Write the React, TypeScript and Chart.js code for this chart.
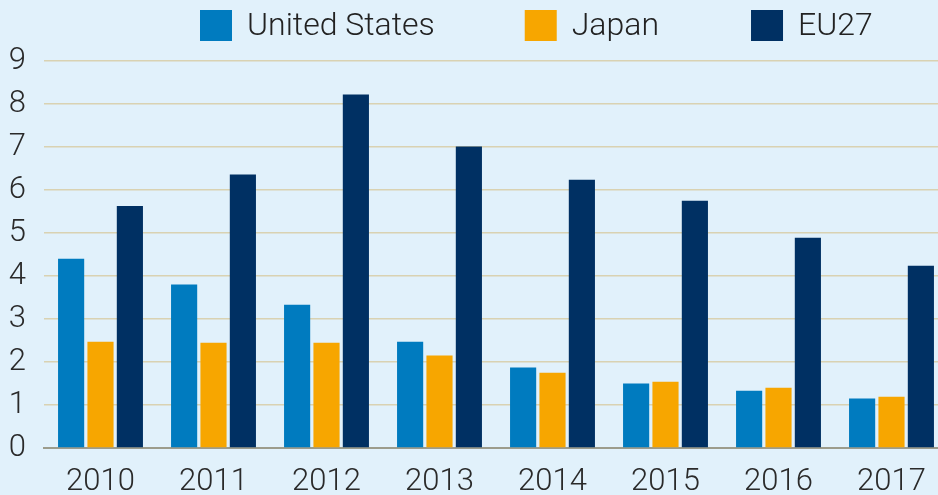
import React, { useEffect, useRef } from "react";
import { Chart, registerables } from "chart.js";

Chart.register(...registerables);

const categories = ["2010", "2011", "2012", "2013", "2014", "2015", "2016", "2017"];
const unitedStates = [4.4, 3.8, 3.33, 2.47, 1.87, 1.5, 1.33, 1.15];
const japan = [2.47, 2.45, 2.45, 2.15, 1.75, 1.54, 1.4, 1.19];
const eu27 = [5.63, 6.36, 8.22, 7.01, 6.24, 5.75, 4.89, 4.24];
const seriesNames = ["United States", "Japan", "EU27"];
const seriesColors = ["#007bbf", "#f7a600", "#003063"];

const BG = "#e1f1fb";
const FONT = "Roboto";

const legendPlugin = {
  id: "customLegend",
  afterDraw(chart: any) {
    const ctx = chart.ctx as CanvasRenderingContext2D;
    const startX = 200;
    const boxW = 32;
    const boxH = 31;
    const boxTop = 10;
    const textGap = 15;
    const itemGaps = [90, 92];
    ctx.save();
    ctx.font = `300 32px ${FONT}`;
    ctx.textBaseline = "middle";
    ctx.textAlign = "left";
    let x = startX;
    chart.data.datasets.forEach((ds: any, i: number) => {
      ctx.fillStyle = ds.backgroundColor;
      ctx.fillRect(x, boxTop, boxW, boxH);
      x += boxW + textGap;
      ctx.fillStyle = "#222";
      ctx.fillText(ds.label, x, boxTop + boxH / 2 + 1);
      x += ctx.measureText(ds.label).width + (itemGaps[i] ?? 0);
    });
    ctx.restore();
  },
};

export default function App() {
  const ref = useRef<HTMLCanvasElement | null>(null);

  useEffect(() => {
    document.body.style.margin = "0";
    document.body.style.background = BG;
    const canvas = ref.current!;
    const chart = new Chart(canvas, {
      type: "bar",
      data: {
        labels: categories,
        datasets: [
          { label: seriesNames[0], data: unitedStates, backgroundColor: seriesColors[0] },
          { label: seriesNames[1], data: japan, backgroundColor: seriesColors[1] },
          { label: seriesNames[2], data: eu27, backgroundColor: seriesColors[2] },
        ],
      },
      options: {
        responsive: false,
        animation: false,
        devicePixelRatio: 1,
        layout: { padding: { left: 0, right: 0, top: 61, bottom: 0 } },
        datasets: {
          bar: { categoryPercentage: 0.78, barPercentage: 0.89 },
        },
        plugins: {
          tooltip: { enabled: false },
          legend: { display: false },
        },
        scales: {
          x: {
            grid: { display: false },
            border: { display: true, color: "#9c9c8c", width: 2 },
            ticks: {
              color: "#2a2a2a",
              padding: 8,
              font: { family: FONT, size: 31, weight: "300" },
              maxRotation: 0,
            },
            afterFit: (s: any) => {
              s.height = 47;
            },
          },
          y: {
            min: 0,
            max: 9,
            ticks: {
              stepSize: 1,
              color: "#2a2a2a",
              padding: 18,
              font: { family: FONT, size: 31, weight: "300" },
            },
            grid: {
              color: "#d9d2b2",
              lineWidth: 1.5,
              drawTicks: false,
            },
            border: { display: false },
            afterFit: (s: any) => {
              s.width = 44;
            },
          },
        },
      },
      plugins: [legendPlugin],
    });
    return () => chart.destroy();
  }, []);

  return (
    <div
      style={{
        position: "fixed",
        left: 0,
        top: 0,
        width: 938,
        height: 495,
        overflow: "hidden",
        background: BG,
      }}
    >
      <canvas ref={ref} width={948} height={495} style={{ display: "block" }} />
    </div>
  );
}
